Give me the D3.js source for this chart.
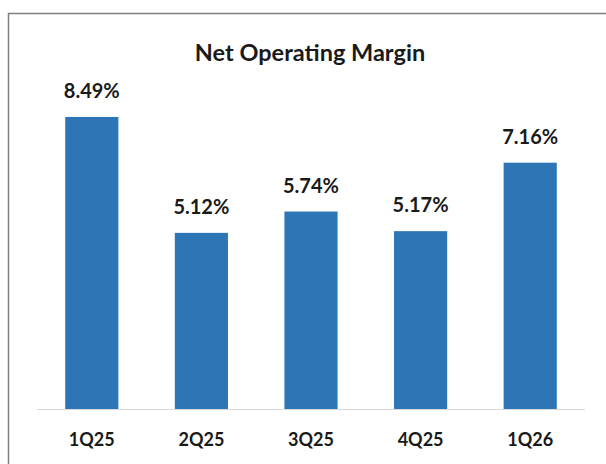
<!DOCTYPE html>
<html>
<head>
<meta charset="utf-8">
<script src="https://cdn.jsdelivr.net/npm/d3@7"></script>
<style>
  body { margin: 0; background: #fff; }
  text { font-family: Lato, "Open Sans", sans-serif; font-weight: bold; fill: #1a1a1a; }
</style>
</head>
<body>
<script>
// chart data
var quarters = ["1Q25", "2Q25", "3Q25", "4Q25", "1Q26"];
var margins = [8.49, 5.12, 5.74, 5.17, 7.16];
var chartTitle = "Net Operating Margin";

var w = 606, h = 464;
var svg = d3.select("body").append("svg")
  .attr("width", w)
  .attr("height", h);

// outer frame (cropped on right and bottom)
svg.append("rect")
  .attr("x", 8.5).attr("y", 13.5)
  .attr("width", 620).attr("height", 480)
  .attr("fill", "none")
  .attr("stroke", "#7f7f7f")
  .attr("stroke-width", 1.5);

var left = 37, right = 585, base = 409;

var x = d3.scaleBand()
  .domain(quarters)
  .range([left, right])
  .paddingInner(0.515)
  .paddingOuter(0.2575);

var y = d3.scaleLinear()
  .domain([0, 10])
  .range([base, base - 344]);

svg.append("text")
  .attr("x", 310).attr("y", 61)
  .attr("text-anchor", "middle")
  .style("font-size", "23.5px")
  .text(chartTitle);

svg.selectAll("rect.bar")
  .data(margins)
  .enter().append("rect")
  .attr("class", "bar")
  .attr("x", function(d, i){ return x(quarters[i]); })
  .attr("y", function(d){ return y(d); })
  .attr("width", x.bandwidth())
  .attr("height", function(d){ return base - y(d); })
  .attr("fill", "#2e75b6");

svg.selectAll("text.val")
  .data(margins)
  .enter().append("text")
  .attr("class", "val")
  .attr("x", function(d, i){ return x(quarters[i]) + x.bandwidth() / 2; })
  .attr("y", function(d){ return y(d) - 19; })
  .attr("text-anchor", "middle")
  .style("font-size", "20px")
  .text(function(d){ return d.toFixed(2) + "%"; });

// baseline
svg.append("line")
  .attr("x1", left).attr("x2", right)
  .attr("y1", base + 0.5).attr("y2", base + 0.5)
  .attr("stroke", "#d9d9d9")
  .attr("stroke-width", 1);

var xAxis = d3.axisBottom(x).tickSize(0).tickPadding(0);
var gx = svg.append("g")
  .attr("transform", "translate(0," + base + ")")
  .call(xAxis);
gx.select(".domain").remove();
gx.selectAll("text")
  .attr("dy", null)
  .attr("y", 37)
  .style("font-size", "18px")
  .style("font-family", "Lato, 'Open Sans', sans-serif")
  .attr("fill", "#1a1a1a");
</script>
</body>
</html>
